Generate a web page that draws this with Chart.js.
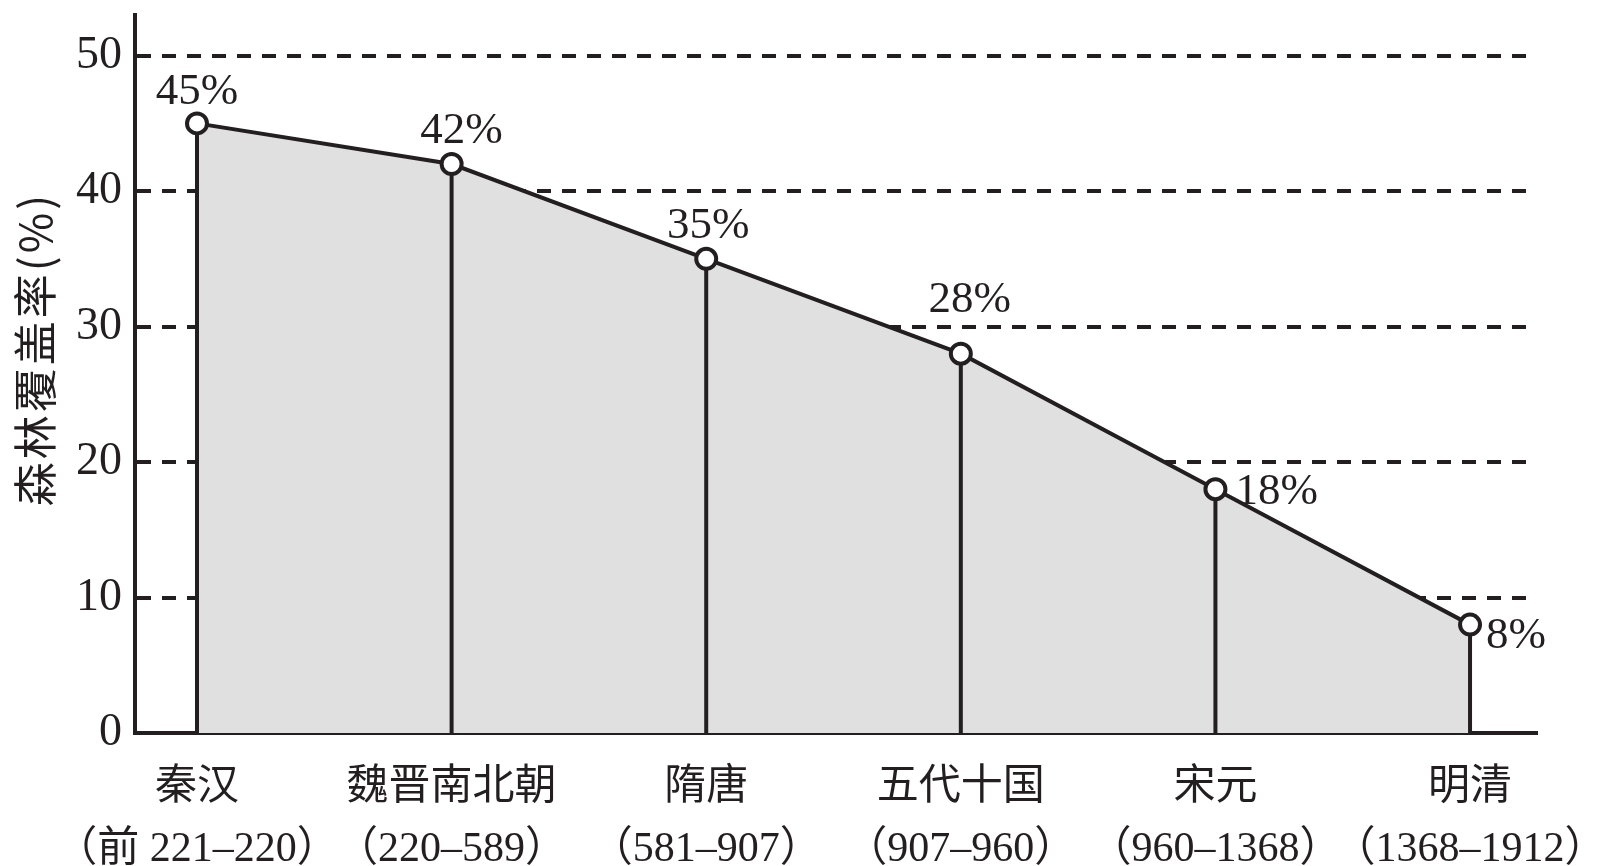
<!DOCTYPE html>
<html lang="zh">
<head>
    <meta charset="UTF-8">
    <title>森林覆盖率</title>
    <script src="https://cdn.jsdelivr.net/npm/chart.js"></script>
    <style>
        html, body { margin: 0; padding: 0; background: #fff; }
        #wrap { width: 1620px; height: 866px; }
    </style>
</head>
<body>
<div id="wrap"><canvas id="forestChart" width="1620" height="866"></canvas></div>
<script>
// data
const periods = ['秦汉', '魏晋南北朝', '隋唐', '五代十国', '宋元', '明清'];
const years = ['（前 221–220）', '（220–589）', '（581–907）', '（907–960）', '（960–1368）', '（1368–1912）'];
const coverage = [45, 42, 35, 28, 18, 8];
const yTicks = [0, 10, 20, 30, 40, 50];
const yTitle = '森林覆盖率(%)';

const ink = '#231f20';
const serif = '"Liberation Serif", "Noto Sans CJK SC", serif';

// vertical lines from each point down to the x axis
const dropLines = {
    id: 'dropLines',
    beforeDatasetsDraw(chart) {
        const ctx = chart.ctx;
        const y0 = chart.scales.y.getPixelForValue(0);
        ctx.save();
        ctx.strokeStyle = ink;
        ctx.lineWidth = 4;
        chart.getDatasetMeta(0).data.forEach(pt => {
            ctx.beginPath();
            ctx.moveTo(pt.x, pt.y);
            ctx.lineTo(pt.x, y0);
            ctx.stroke();
        });
        ctx.restore();
    }
};

// percent labels next to the points (hand placed like in the print)
const valueLabels = {
    id: 'valueLabels',
    afterDatasetsDraw(chart) {
        const ctx = chart.ctx;
        const side = ['top', 'top', 'top', 'top', 'right', 'right'];
        const dx = [0, 10, 2, 9, 20, 16];
        const dy = [-19, -21, -21, -42, 15, 23];
        ctx.save();
        ctx.fillStyle = ink;
        ctx.font = '45px ' + serif;
        ctx.textBaseline = 'alphabetic';
        chart.getDatasetMeta(0).data.forEach((pt, i) => {
            ctx.textAlign = side[i] === 'top' ? 'center' : 'left';
            ctx.fillText(coverage[i] + '%', pt.x + dx[i], pt.y + dy[i]);
        });
        ctx.restore();
    }
};

// rotated y axis title
const yAxisTitle = {
    id: 'yAxisTitle',
    afterDraw(chart) {
        const ctx = chart.ctx;
        const area = chart.chartArea;
        ctx.save();
        ctx.translate(35, (area.top + area.bottom) / 2 - 25);
        ctx.rotate(-Math.PI / 2);
        ctx.fillStyle = ink;
        ctx.font = '44px "Noto Sans CJK SC", "Liberation Serif", sans-serif';
        if ('letterSpacing' in ctx) ctx.letterSpacing = '3px';
        ctx.textAlign = 'center';
        ctx.textBaseline = 'middle';
        ctx.fillText(yTitle, 0, 0);
        ctx.restore();
    }
};

const ctx = document.getElementById('forestChart').getContext('2d');
new Chart(ctx, {
    type: 'line',
    data: {
        datasets: [{
            data: coverage.map((v, i) => ({ x: i, y: v })),
            borderColor: ink,
            borderWidth: 4,
            backgroundColor: '#e0e0e0',
            fill: 'origin',
            tension: 0,
            pointRadius: 10,
            pointBorderWidth: 4,
            pointBackgroundColor: '#fff',
            pointBorderColor: ink,
            pointHoverRadius: 10
        }]
    },
    options: {
        responsive: false,
        animation: false,
        devicePixelRatio: 1,
        layout: { padding: { top: 15, right: 83, left: 0, bottom: 0 } },
        plugins: {
            legend: { display: false },
            tooltip: { enabled: false },
            filler: { drawTime: 'beforeDatasetsDraw' }
        },
        scales: {
            x: {
                type: 'linear',
                min: -0.2435,
                max: 5.263,
                afterBuildTicks: scale => { scale.ticks = periods.map((p, i) => ({ value: i })); },
                afterFit: scale => {
                    scale.height = 133;
                    scale.paddingLeft = 0;
                    scale.paddingRight = 0;
                },
                grid: { display: false },
                border: { display: true, color: ink, width: 4 },
                ticks: {
                    autoSkip: false,
                    maxRotation: 0,
                    padding: 16,
                    color: ink,
                    font: { family: serif, size: 42, lineHeight: 1.476 },
                    callback: v => [periods[v], years[v]]
                }
            },
            y: {
                min: 0,
                max: 53,
                z: 1,
                afterBuildTicks: scale => { scale.ticks = yTicks.map(v => ({ value: v })); },
                afterFit: scale => {
                    scale.width = 135;
                    scale.paddingTop = 0;
                    scale.paddingBottom = 0;
                },
                grid: {
                    drawTicks: false,
                    lineWidth: 4,
                    color: c => c.tick && c.tick.value === 0 ? 'rgba(0,0,0,0)' : ink
                },
                border: { display: true, color: ink, width: 4, dash: [14, 11] },
                ticks: {
                    padding: 13,
                    color: ink,
                    font: { family: serif, size: 46 }
                }
            }
        }
    },
    plugins: [dropLines, valueLabels, yAxisTitle]
});
</script>
</body>
</html>
